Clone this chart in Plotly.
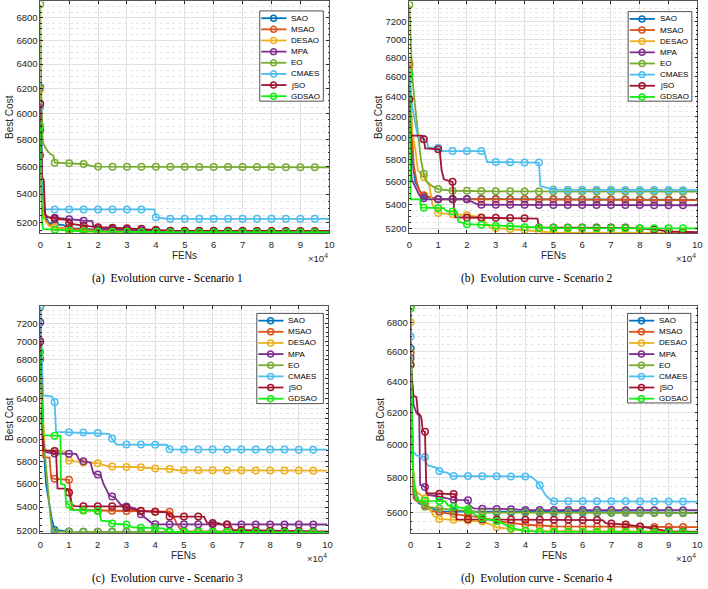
import numpy as np
import plotly.graph_objects as go

W, H = 708, 589

NAMES = ["SAO", "MSAO", "DESAO", "MPA", "EO", "CMAES", "jSO", "GDSAO"]
COLORS = ["#0072BD", "#D95319", "#EDB120", "#7E2F8E", "#77AC30", "#4DBEEE", "#A2142F", "#11EE11"]

# FEs are in units of 1e4; values are best cost
# ---------------- Scenario 1 ----------------
S1_SAO = ([0, 0.03, 0.08, 0.15, 0.3, 0.5, 0.8, 1.0, 2.0, 4.0, 10],
          [6206, 5800, 5400, 5250, 5200, 5190, 5185, 5165, 5155, 5145, 5140])
S1_MSAO = ([0, 0.03, 0.1, 0.3, 0.5, 1.0, 2.0, 4.0, 10],
           [5680, 5400, 5240, 5190, 5170, 5160, 5150, 5145, 5142])
S1_DESAO = ([0, 0.03, 0.08, 0.15, 0.3, 0.5, 1.0, 1.5, 2.0, 10],
            [6193, 5700, 5350, 5220, 5180, 5170, 5150, 5145, 5140, 5133])
S1_MPA = ([0, 0.05, 0.15, 0.2, 0.5, 0.9, 1.0, 1.4, 1.5, 1.8, 1.85, 2.0, 3.0, 4.0, 10],
          [5870, 5500, 5280, 5240, 5235, 5230, 5225, 5218, 5215, 5212, 5170, 5165, 5155, 5145, 5140])
S1_EO = ([0, 0.03, 0.08, 0.12, 0.25, 0.35, 0.45, 0.5, 1.0, 1.5, 1.8, 2.0, 10],
         [6920, 6200, 5800, 5760, 5712, 5690, 5680, 5626, 5621, 5616, 5600, 5597, 5592])
S1_CMAES = ([0, 0.05, 0.12, 0.15, 3.95, 4.0, 4.3, 4.5, 10],
            [6050, 5600, 5300, 5292, 5292, 5238, 5230, 5228, 5228])
S1_JSO = ([0, 0.03, 0.06, 0.12, 0.17, 0.25, 0.5, 0.9, 1.0, 1.5, 2.0, 2.5, 3.0, 3.5, 4.0, 4.5, 10],
          [6076, 5800, 5520, 5500, 5260, 5240, 5227, 5220, 5195, 5182, 5171, 5167, 5163, 5160, 5153, 5147, 5145])
S1_GDSAO = ([0, 0.02, 0.06, 0.1, 0.5, 1.0, 1.5, 3.0, 4.5, 10],
            [5900, 5500, 5200, 5160, 5153, 5147, 5142, 5140, 5137, 5137])

# ---------------- Scenario 2 ----------------
S2_SAO = ([0, 0.05, 0.1, 0.2, 0.4, 0.5, 1.0, 10],
          [6720, 6200, 5800, 5600, 5500, 5470, 5450, 5442])
S2_MSAO = ([0, 0.05, 0.1, 0.15, 0.25, 0.35, 0.5, 0.8, 1.0, 10],
           [6747, 6300, 6000, 5750, 5600, 5520, 5482, 5460, 5447, 5440])
S2_DESAO = ([0, 0.05, 0.1, 0.2, 0.3, 0.5, 0.7, 0.8, 1.0, 1.5, 2.0, 2.5, 2.8, 3.0, 4.0, 4.5, 5.0, 10],
            [6712, 6300, 6050, 5900, 5700, 5640, 5560, 5400, 5330, 5320, 5314, 5295, 5210, 5205, 5190, 5180, 5168, 5167])
S2_MPA = ([0, 0.03, 0.08, 0.2, 0.35, 0.5, 0.6, 2.0, 2.2, 2.4, 10],
          [6574, 6000, 5620, 5560, 5480, 5456, 5446, 5446, 5420, 5400, 5396])
S2_EO = ([0, 0.05, 0.1, 0.2, 0.3, 0.4, 0.5, 0.6, 0.8, 1.0, 1.5, 2.0, 3.0, 10],
         [7391, 7000, 6600, 6300, 6050, 5800, 5670, 5600, 5560, 5535, 5520, 5520, 5515, 5512])
S2_CMAES = ([0, 0.1, 0.3, 0.6, 0.65, 1.0, 1.1, 2.6, 2.7, 4.5, 4.55, 4.9, 5.0, 10],
            [6630, 6300, 6000, 5980, 5910, 5905, 5875, 5875, 5775, 5770, 5560, 5535, 5530, 5525])
S2_JSO = ([0, 0.05, 0.45, 0.5, 0.55, 1.05, 1.12, 1.2, 1.5, 1.55, 1.6, 4.0, 4.45, 4.5, 7.5, 7.8, 8.5, 9.0, 10],
          [6374, 6019, 6019, 5986, 5900, 5890, 5700, 5620, 5598, 5380, 5295, 5287, 5283, 5211, 5211, 5205, 5195, 5178, 5172])
S2_GDSAO = ([0, 0.04, 0.37, 0.4, 1.2, 1.3, 1.65, 1.7, 2.0, 2.5, 3.0, 3.5, 4.0, 5.0, 10],
            [6625, 5446, 5446, 5375, 5372, 5345, 5342, 5260, 5238, 5233, 5226, 5220, 5213, 5206, 5204])

# ---------------- Scenario 3 ----------------
S3_SAO = ([0, 0.05, 0.1, 0.2, 0.4, 0.5, 1.0, 10],
          [7385, 6600, 6000, 5600, 5300, 5210, 5196, 5192])
S3_MSAO = ([0, 0.05, 0.1, 0.32, 0.38, 0.5, 1.0, 1.05, 1.1, 1.2, 2.5, 4.5, 4.6, 4.75, 4.9, 5.0, 10],
           [6808, 6200, 5838, 5835, 5650, 5644, 5635, 5520, 5390, 5375, 5368, 5360, 5340, 5260, 5205, 5200, 5195])
S3_DESAO = ([0, 0.05, 0.1, 0.15, 0.2, 0.5, 0.85, 0.95, 1.0, 1.5, 2.0, 2.3, 2.5, 3.5, 4.0, 4.5, 4.8, 10],
            [7380, 6600, 6200, 5950, 5900, 5895, 5890, 5810, 5806, 5790, 5784, 5760, 5753, 5747, 5735, 5732, 5720, 5716])
S3_MPA = ([0, 0.05, 0.1, 0.15, 0.5, 1.25, 1.35, 1.5, 1.75, 1.85, 2.1, 2.2, 2.4, 2.6, 2.8, 3.0, 3.3, 3.5, 3.7, 3.9, 4.0, 10],
          [7212, 6500, 6000, 5886, 5872, 5868, 5815, 5800, 5790, 5690, 5675, 5600, 5500, 5480, 5420, 5405, 5390, 5340, 5300, 5262, 5256, 5254])
S3_EO = ([0, 0.05, 0.1, 0.17, 0.23, 0.29, 0.35, 0.4, 0.5, 10],
         [6283, 6100, 5950, 5840, 5650, 5500, 5330, 5222, 5196, 5192])
S3_CMAES = ([0, 0.05, 0.1, 0.42, 0.5, 0.55, 2.0, 2.4, 2.5, 2.65, 4.4, 4.5, 10],
            [7391, 6800, 6430, 6420, 6365, 6075, 6063, 6055, 6012, 5955, 5953, 5910, 5907])
S3_JSO = ([0, 0.05, 0.1, 0.5, 0.55, 0.6, 0.95, 1.0, 1.1, 1.2, 2.9, 3.0, 3.3, 3.5, 4.0, 4.4, 4.5, 5.7, 5.8, 6.2, 6.3, 6.6, 6.7, 7.5, 10],
          [6998, 6300, 5900, 5895, 5880, 5560, 5555, 5524, 5420, 5408, 5405, 5393, 5380, 5368, 5360, 5355, 5320, 5320, 5270, 5265, 5255, 5254, 5210, 5205, 5196])
S3_GDSAO = ([0, 0.05, 0.12, 0.7, 0.72, 0.85, 0.9, 1.0, 1.05, 2.05, 2.12, 2.4, 2.5, 3.0, 3.2, 4.3, 4.4, 10],
            [6880, 6400, 6040, 6037, 5600, 5590, 5430, 5420, 5375, 5367, 5285, 5280, 5262, 5254, 5230, 5222, 5195, 5190])

# ---------------- Scenario 4 ----------------
S4_SAO = ([0, 0.05, 0.1, 0.3, 0.5, 1.0, 10],
          [6620, 6000, 5700, 5650, 5640, 5605, 5598])
S4_MSAO = ([0, 0.05, 0.1, 0.2, 0.45, 0.5, 0.7, 1.0, 1.5, 2.0, 2.5, 3.0, 3.5, 4.0, 4.5, 5.0, 10],
           [6590, 6000, 5680, 5665, 5650, 5642, 5610, 5600, 5590, 5582, 5570, 5550, 5540, 5530, 5525, 5520, 5516])
S4_DESAO = ([0, 0.05, 0.1, 0.2, 0.5, 0.6, 0.8, 1.0, 1.5, 2.0, 2.5, 2.8, 3.0, 3.5, 4.0, 10],
            [6800, 6100, 5800, 5720, 5680, 5640, 5580, 5562, 5557, 5553, 5547, 5530, 5515, 5505, 5495, 5490])
S4_MPA = ([0, 0.05, 0.1, 0.2, 0.3, 0.33, 0.5, 0.6, 1.0, 1.5, 2.0, 2.05, 2.2, 3.5, 4.0, 10],
          [6556, 6400, 6250, 6200, 6180, 5760, 5747, 5700, 5690, 5672, 5670, 5640, 5622, 5618, 5613, 5612])
S4_EO = ([0, 0.03, 0.07, 0.12, 0.3, 0.5, 1.0, 1.5, 2.0, 2.5, 10],
         [6909, 6300, 5900, 5750, 5660, 5632, 5622, 5614, 5608, 5598, 5595])
S4_CMAES = ([0, 0.04, 0.07, 0.2, 0.5, 0.55, 0.6, 0.9, 1.0, 1.3, 1.4, 4.2, 4.4, 4.5, 4.7, 4.9, 5.0, 10],
            [6702, 6100, 5965, 5935, 5925, 5890, 5875, 5860, 5841, 5830, 5812, 5808, 5780, 5757, 5700, 5668, 5664, 5662])
S4_JSO = ([0, 0.05, 0.1, 0.2, 0.25, 0.35, 0.38, 0.42, 0.5, 0.55, 1.55, 1.6, 6.7, 6.8, 7.0, 7.5, 8.0, 8.5, 9.0, 10],
          [6512, 6400, 6307, 6300, 6200, 6180, 6160, 6087, 6080, 5710, 5705, 5560, 5556, 5538, 5536, 5530, 5520, 5505, 5492, 5489])
S4_GDSAO = ([0, 0.03, 0.07, 0.12, 0.2, 0.5, 1.2, 1.3, 1.5, 1.8, 2.0, 2.2, 2.5, 3.0, 3.3, 3.5, 4.0, 4.5, 10],
            [6898, 6300, 5900, 5750, 5670, 5666, 5664, 5640, 5632, 5625, 5617, 5590, 5566, 5551, 5530, 5510, 5495, 5490, 5486])

X_TICKS = list(range(0, 11))
Y_TICKS_1 = list(range(5200, 6801, 200))
Y_TICKS_2 = list(range(5200, 7201, 200))
Y_TICKS_3 = list(range(5200, 7201, 200))
Y_TICKS_4 = list(range(5600, 6801, 200))
Y_RANGES = [(5131, 6945), (5165, 7430), (5185, 7400), (5483, 6916)]
CAPTIONS = ["(a)\u00a0 Evolution curve - Scenario 1", "(b)\u00a0 Evolution curve - Scenario 2",
            "(c)\u00a0 Evolution curve - Scenario 3", "(d)\u00a0 Evolution curve - Scenario 4"]

SCENARIOS = [
    [S1_SAO, S1_MSAO, S1_DESAO, S1_MPA, S1_EO, S1_CMAES, S1_JSO, S1_GDSAO],
    [S2_SAO, S2_MSAO, S2_DESAO, S2_MPA, S2_EO, S2_CMAES, S2_JSO, S2_GDSAO],
    [S3_SAO, S3_MSAO, S3_DESAO, S3_MPA, S3_EO, S3_CMAES, S3_JSO, S3_GDSAO],
    [S4_SAO, S4_MSAO, S4_DESAO, S4_MPA, S4_EO, S4_CMAES, S4_JSO, S4_GDSAO],
]
Y_TICKS = [Y_TICKS_1, Y_TICKS_2, Y_TICKS_3, Y_TICKS_4]

# ---------------- layout geometry (pixels) ----------------
# plot boxes: left, right, top, bottom
BOXES = [(37.7, 330.0, 1.5, 234.3), (411.0, 702.3, 1.5, 234.3),
         (37.7, 328.3, 307.3, 535.7), (412.3, 702.3, 307.3, 535.7)]
LEGENDS = [(259.7, 11.0, 324.0, 101.7), (632.3, 11.7, 696.7, 101.7),
           (256.7, 315.0, 324.0, 405.7), (631.7, 315.0, 695.7, 405.0)]
MARK_X = np.arange(0, 10, 0.5)

FONT = "Liberation Sans, Arial, Helvetica, sans-serif"
SERIF = "Liberation Serif, Times New Roman, serif"
AXC = "#262626"


def px(x):
    return x / W


def py(y):
    return 1 - y / H


fig = go.Figure()
layout = dict(width=W, height=H, margin=dict(l=0, r=0, t=0, b=0),
              paper_bgcolor="white", plot_bgcolor="white", showlegend=False)
shapes, annotations = [], []

for k in range(4):
    sfx = "" if k == 0 else str(k + 1)
    xa, ya = "x" + sfx, "y" + sfx
    L, R, T, B = BOXES[k]
    lo, hi = Y_RANGES[k]
    minor_vals = [v for v in range(5000, 7500, 50) if lo <= v <= hi and v % 200 != 0]
    layout["xaxis" + sfx] = dict(
        domain=[px(L), px(R)], anchor=ya, range=[0, 10], tickvals=X_TICKS,
        ticktext=[str(t) for t in X_TICKS], ticks="inside", ticklen=3, tickwidth=0.6,
        tickcolor=AXC, showline=True, linecolor="#555555", linewidth=0.7, mirror="allticks",
        showgrid=True, gridcolor="#e2e2e2", gridwidth=0.8, zeroline=False,
        tickfont=dict(family=FONT, size=9.5, color=AXC), ticklabelstandoff=3)
    layout["yaxis" + sfx] = dict(
        domain=[py(B), py(T)], anchor=xa, type="log",
        range=[np.log10(lo), np.log10(hi)], tickvals=Y_TICKS[k],
        ticktext=[str(t) for t in Y_TICKS[k]], ticks="inside", ticklen=3, tickwidth=0.6,
        tickcolor=AXC, showline=True, linecolor="#555555", linewidth=0.7, mirror="allticks",
        showgrid=True, gridcolor="#e2e2e2", gridwidth=0.8, zeroline=False,
        tickfont=dict(family=FONT, size=9.5, color=AXC),
        minor=dict(tickvals=minor_vals, showgrid=True, gridcolor="#e6e6e6",
                   griddash="dot", gridwidth=0.7, ticks="inside", ticklen=1.5,
                   tickcolor=AXC))

    for name, color, (xs, ys) in zip(NAMES, COLORS, SCENARIOS[k]):
        fig.add_trace(go.Scatter(x=xs, y=ys, mode="lines", xaxis=xa, yaxis=ya,
                                 line=dict(color=color, width=1.8), name=name,
                                 hoverinfo="skip"))
        ym = np.interp(MARK_X, xs, ys)
        fig.add_trace(go.Scatter(x=MARK_X, y=ym, mode="markers", xaxis=xa, yaxis=ya,
                                 marker=dict(symbol="circle-open", size=6.5, color=color,
                                             line=dict(width=1.5, color=color)),
                                 name=name, hoverinfo="skip"))

    # axis labels
    cx = (L + R) / 2
    cy = (T + B) / 2
    annotations.append(dict(x=px(cx), y=py(B + 22.5), xref="paper", yref="paper", text="FENs",
                            showarrow=False, xanchor="center", yanchor="middle",
                            font=dict(family=FONT, size=10, color=AXC)))
    annotations.append(dict(x=px(L - 31), y=py(cy), xref="paper", yref="paper", text="Best Cost",
                            showarrow=False, xanchor="center", yanchor="middle", textangle=-90,
                            font=dict(family=FONT, size=10, color=AXC)))
    annotations.append(dict(x=px(R + 1), y=py(B + 25), xref="paper", yref="paper",
                            text="\u00d710<sup>4</sup>", showarrow=False,
                            xanchor="right", yanchor="middle",
                            font=dict(family=FONT, size=9.5, color=AXC)))
    # caption
    annotations.append(dict(x=px(cx - 17), y=py(B + 45.5), xref="paper", yref="paper",
                            text=CAPTIONS[k], showarrow=False, xanchor="center", yanchor="middle",
                            font=dict(family=SERIF, size=11.5, color="black")))

    # manual legend
    lL, lT, lR, lB = LEGENDS[k]
    shapes.append(dict(type="rect", xref="paper", yref="paper", x0=px(lL), x1=px(lR),
                       y0=py(lB), y1=py(lT), fillcolor="white",
                       line=dict(color=AXC, width=0.8), layer="above"))
    for i, (name, color) in enumerate(zip(NAMES, COLORS)):
        yy = lT + 7.3 + i * 11.2
        shapes.append(dict(type="line", xref="paper", yref="paper", x0=px(lL + 1.5),
                           x1=px(lL + 27), y0=py(yy), y1=py(yy),
                           line=dict(color=color, width=1.8), layer="above"))
        shapes.append(dict(type="circle", xref="paper", yref="paper", x0=px(lL + 14 - 3),
                           x1=px(lL + 14 + 3), y0=py(yy + 3), y1=py(yy - 3),
                           line=dict(color=color, width=1.5), layer="above"))
        annotations.append(dict(x=px(lL + 30), y=py(yy), xref="paper", yref="paper",
                                text=name, showarrow=False, xanchor="left", yanchor="middle",
                                font=dict(family=FONT, size=8, color="black")))

layout["shapes"] = shapes
layout["annotations"] = annotations
fig.update_layout(**layout)
fig.write_html("out.html", config={"displayModeBar": False},
               post_script="document.body.style.margin='0';document.body.style.padding='0';")
